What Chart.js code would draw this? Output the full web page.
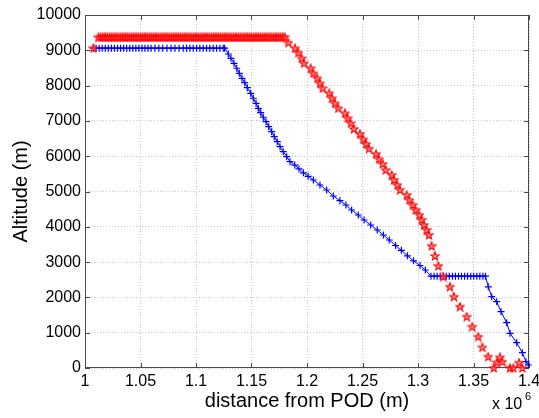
<!DOCTYPE html>
<html>
<head>
<meta charset="utf-8">
<script src="https://cdn.jsdelivr.net/npm/chart.js@4.4.1/dist/chart.umd.min.js"></script>
<style>
  html, body { margin: 0; padding: 0; background: #ffffff; }
  #c { display: block; }
</style>
</head>
<body>
<canvas id="c" width="539" height="418"></canvas>
<script>
// ---------------- DATA (distance in units of 10^6 m, altitude in m) ----------------
const xTickValues = [1.0, 1.05, 1.1, 1.15, 1.2, 1.25, 1.3, 1.35, 1.4];
const xTickLabels = ["1", "1.05", "1.1", "1.15", "1.2", "1.25", "1.3", "1.35", "1.4"];
const yTickValues = [0, 1000, 2000, 3000, 4000, 5000, 6000, 7000, 8000, 9000, 10000];
const yTickLabels = ["0", "1000", "2000", "3000", "4000", "5000", "6000", "7000", "8000", "9000", "10000"];

const xAxisTitle = "distance from POD (m)";
const yAxisTitle = "Altitude (m)";
const xMultiplier = "x 10";
const xMultiplierExp = "6";

// Blue series ('+' markers, solid line)
const blueDistance = [
  1.0075,1.0100,1.0128,1.0155,1.0183,1.0210,1.0238,1.0265,1.0293,1.0320,
  1.0348,1.0375,1.0403,1.0430,1.0458,1.0485,1.0513,1.0540,1.0568,1.0595,
  1.0630,1.0665,1.0700,1.0738,1.0775,1.0810,1.0848,1.0885,1.0915,1.0945,
  1.0975,1.1005,1.1035,1.1065,1.1095,1.1125,1.1155,1.1185,1.1215,1.1245,1.1258,
  1.1291,1.1315,1.1342,1.1367,1.1390,1.1414,1.1439,1.1462,1.1493,1.1516,
  1.1541,1.1561,1.1583,1.1606,1.1631,1.1655,1.1682,1.1705,1.1732,1.1757,
  1.1786,1.1817,1.1847,1.1890,
  1.1928,1.1968,1.2010,1.2057,1.2117,1.2177,1.2237,1.2297,1.2351,1.2402,
  1.2462,1.2514,1.2574,1.2633,1.2688,1.2741,1.2798,1.2850,1.2905,1.2960,
  1.3018,1.3066,
  1.3117,1.3145,1.3172,1.3200,1.3227,1.3255,1.3282,1.3310,1.3337,1.3365,
  1.3392,1.3420,1.3447,1.3475,1.3502,1.3530,1.3557,1.3585,1.3608,
  1.3633,1.3664,1.3709,1.3748,1.3799,1.3829,1.3889,1.3940,1.3973,1.3994
];
const blueAltitude = [
  9060,9060,9060,9060,9060,9060,9060,9060,9060,9060,
  9060,9060,9060,9060,9060,9060,9060,9060,9060,9060,
  9060,9060,9060,9060,9060,9060,9060,9060,9060,9060,
  9060,9060,9060,9060,9060,9060,9060,9060,9060,9060,9060,
  8895,8774,8632,8491,8349,8207,8083,7941,7782,7641,
  7499,7357,7233,7103,6978,6836,6695,6553,6411,6270,
  6128,5986,5845,5750,
  5640,5530,5430,5326,5184,5043,4873,4740,4618,4476,
  4334,4193,4051,3909,3768,3626,3470,3333,3177,3036,
  2904,2776,
  2600,2600,2600,2600,2600,2600,2600,2600,2600,2600,
  2600,2600,2600,2600,2600,2600,2600,2600,2600,
  2300,2020,1880,1595,1283,983,717,433,178,85
];

// Red series (pentagram markers, dotted line)
const redDistance = [
  1.0075,
  1.012,1.014,1.016,1.018,1.020,1.022,1.024,1.026,1.028,1.030,
  1.032,1.034,1.036,1.038,1.040,1.042,1.044,1.046,1.048,1.050,
  1.052,1.054,1.056,1.058,1.060,1.062,1.064,1.066,1.068,1.070,
  1.072,1.074,1.076,1.078,1.080,1.082,1.084,1.086,1.088,1.090,
  1.092,1.094,1.096,1.098,1.100,1.102,1.104,1.106,1.108,1.110,
  1.112,1.114,1.116,1.118,1.120,1.122,1.124,1.126,1.128,1.130,
  1.132,1.134,1.136,1.138,1.140,1.142,1.144,1.146,1.148,1.150,
  1.152,1.154,1.156,1.158,1.160,1.162,1.164,1.166,1.168,1.170,
  1.172,1.174,1.176,1.178,1.180,
  1.1832,1.1892,1.1922,1.1952,1.1973,1.2033,1.2057,1.2093,1.2117,1.2141,
  1.2201,1.2225,1.2252,1.2282,1.2342,1.2366,1.2394,1.2423,1.2477,1.2507,
  1.2532,1.2559,1.2622,1.2649,1.2682,1.2709,1.2763,1.2784,1.2814,1.2838,
  1.2898,1.2922,1.2952,1.2979,1.3012,1.3033,1.3054,1.3077,1.3099,1.3123,
  1.3153,1.3183,1.3228,1.3288,1.3324,1.3378,1.3439,1.3489,1.3543,1.3580,
  1.3633,1.3682,1.3709,1.3739,1.3760,1.3829,1.3859,1.3910,1.3940
];
const redAltitude = [
  9060,
  9370,9370,9370,9370,9370,9370,9370,9370,9370,9370,
  9370,9370,9370,9370,9370,9370,9370,9370,9370,9370,
  9370,9370,9370,9370,9370,9370,9370,9370,9370,9370,
  9370,9370,9370,9370,9370,9370,9370,9370,9370,9370,
  9370,9370,9370,9370,9370,9370,9370,9370,9370,9370,
  9370,9370,9370,9370,9370,9370,9370,9370,9370,9370,
  9370,9370,9370,9370,9370,9370,9370,9370,9370,9370,
  9370,9370,9370,9370,9370,9370,9370,9370,9370,9370,
  9370,9370,9370,9370,9370,
  9215,9057,8932,8773,8632,8490,8348,8207,8065,7924,
  7782,7640,7498,7357,7215,7074,6932,6771,6629,6478,
  6346,6212,6062,5912,5779,5609,5467,5326,5184,5042,
  4901,4759,4618,4476,4334,4193,4051,3910,3768,3456,
  3173,2890,2587,2303,2020,1737,1453,1170,887,586,
  320,0,160,303,178,0,0,150,0
];

// ---------------- MARKERS ----------------
function makePentagram(size) {
  const cv = document.createElement('canvas');
  cv.width = size; cv.height = size;
  const g = cv.getContext('2d');
  const cx = size / 2, cy = size / 2 + 0.3;
  const R = size / 2 - 0.7, r = R * 0.42;
  g.beginPath();
  for (let i = 0; i < 10; i++) {
    const rad = (i % 2 === 0) ? R : r;
    const a = -Math.PI / 2 + i * Math.PI / 5;
    const px = cx + rad * Math.cos(a), py = cy + rad * Math.sin(a);
    if (i === 0) g.moveTo(px, py); else g.lineTo(px, py);
  }
  g.closePath();
  g.fillStyle = 'rgba(255,90,90,0.7)';
  g.fill();
  g.strokeStyle = '#ff0000';
  g.lineWidth = 1.1;
  g.stroke();
  return cv;
}
const pentagram = makePentagram(10);

const FONT = "'Liberation Sans', Arial, Helvetica, sans-serif";

const framePlugin = {
  id: 'matlabFrame',
  beforeDatasetsDraw(chart) {
    const { ctx, chartArea: a, scales } = chart;
    ctx.save();
    ctx.strokeStyle = '#4a4a4a';
    ctx.lineWidth = 1;
    ctx.strokeRect(Math.round(a.left) + 0.5, Math.round(a.top) + 0.5,
                   Math.round(a.right - a.left) - 1, Math.round(a.bottom - a.top) - 1);
    const tl = 5;
    ctx.beginPath();
    xTickValues.forEach(v => {
      const x = Math.round(scales.x.getPixelForValue(v)) + 0.5;
      ctx.moveTo(x, a.bottom); ctx.lineTo(x, a.bottom - tl);
      ctx.moveTo(x, a.top); ctx.lineTo(x, a.top + tl);
    });
    yTickValues.forEach(v => {
      const y = Math.round(scales.y.getPixelForValue(v)) + 0.5;
      ctx.moveTo(a.left, y); ctx.lineTo(a.left + tl, y);
      ctx.moveTo(a.right, y); ctx.lineTo(a.right - tl, y);
    });
    ctx.stroke();
    ctx.restore();
  },
  afterDraw(chart) {
    const { ctx, chartArea: a } = chart;
    ctx.save();
    ctx.fillStyle = '#000';
    // x title
    ctx.font = '20px ' + FONT;
    ctx.textAlign = 'center';
    ctx.textBaseline = 'alphabetic';
    ctx.fillText(xAxisTitle, (a.left + a.right) / 2, 407);
    // y title
    ctx.save();
    ctx.translate(27, (a.top + a.bottom) / 2);
    ctx.rotate(-Math.PI / 2);
    ctx.fillText(yAxisTitle, 0, 0);
    ctx.restore();
    // multiplier
    ctx.font = '16px ' + FONT;
    ctx.textAlign = 'left';
    ctx.fillText(xMultiplier, 492, 409);
    ctx.font = '11px ' + FONT;
    ctx.fillText(xMultiplierExp, 525, 400);
    ctx.restore();
  }
};

const gridCommon = { color: '#c8c8c8', lineWidth: 1, drawTicks: false };

new Chart(document.getElementById('c'), {
  type: 'scatter',
  data: {
    datasets: [
      {
        label: 'red',
        data: redDistance.map((x, i) => ({ x, y: redAltitude[i] })),
        showLine: true,
        borderColor: 'rgba(255,0,0,0.7)',
        borderWidth: 1,
        borderDash: [1, 2],
        pointStyle: pentagram,
        pointRadius: 5,
        clip: false,
        order: 0
      },
      {
        label: 'blue',
        data: blueDistance.map((x, i) => ({ x, y: blueAltitude[i] })),
        showLine: true,
        borderColor: '#0000ff',
        borderWidth: 1,
        pointStyle: 'cross',
        pointRadius: 3.5,
        pointBorderWidth: 1.2,
        pointBorderColor: '#0000ff',
        clip: false,
        order: 1
      }
    ]
  },
  options: {
    responsive: false,
    animation: false,
    devicePixelRatio: 1,
    layout: { padding: { left: 0, right: 10, top: 15, bottom: 0 } },
    plugins: { legend: { display: false }, tooltip: { enabled: false } },
    elements: { line: { tension: 0 } },
    scales: {
      x: {
        type: 'linear', min: 1.0, max: 1.4,
        grid: gridCommon,
        border: { display: false, dash: [1, 2] },
        afterBuildTicks: s => { s.ticks = xTickValues.map(v => ({ value: v })); },
        afterFit: s => { s.height = 50; s.paddingLeft = 0; s.paddingRight = 0; },
        ticks: {
          autoSkip: false, maxRotation: 0, minRotation: 0, padding: 4,
          color: '#000', font: { family: FONT, size: 16 },
          callback: (v) => { const i = xTickValues.findIndex(t => Math.abs(t - v) < 1e-9); return i >= 0 ? xTickLabels[i] : ''; }
        }
      },
      y: {
        type: 'linear', min: 0, max: 10000,
        grid: gridCommon,
        border: { display: false, dash: [1, 2] },
        afterBuildTicks: s => { s.ticks = yTickValues.map(v => ({ value: v })); },
        afterFit: s => { s.width = 85; s.paddingTop = 0; s.paddingBottom = 0; },
        ticks: {
          autoSkip: false, padding: 4,
          color: '#000', font: { family: FONT, size: 16 },
          callback: (v) => { const i = yTickValues.indexOf(v); return i >= 0 ? yTickLabels[i] : ''; }
        }
      }
    }
  },
  plugins: [framePlugin]
});
</script>
</body>
</html>
